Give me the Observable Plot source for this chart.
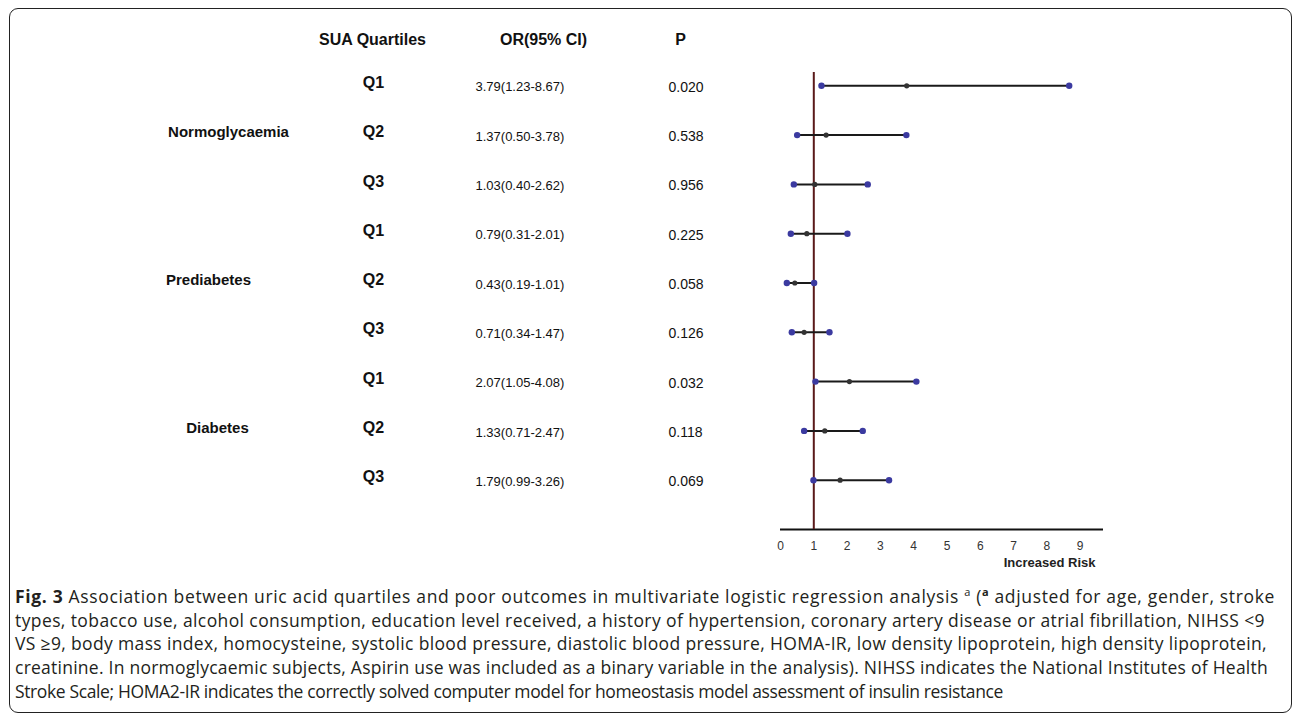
<!DOCTYPE html>
<html><head><meta charset="utf-8">
<script src="https://cdn.jsdelivr.net/npm/d3@7"></script>
<script src="https://cdn.jsdelivr.net/npm/@observablehq/plot@0.6"></script>
<style>
html,body{margin:0;padding:0;background:#fff;}
#wrap{position:relative;width:1292px;height:719px;overflow:hidden;background:#fff;}
#box{position:absolute;left:9px;top:8px;width:1283px;height:705px;border:1.6px solid #222;border-radius:9px;box-sizing:border-box;}
#chart{position:absolute;left:0;top:0;}
#caption{position:absolute;left:15px;top:585px;font-family:"Open Sans",sans-serif;font-size:17.5px;line-height:23.7px;color:#231f20;}
.ln{display:block;white-space:nowrap;height:23.7px;}
.ln span.t{display:inline-block;white-space:nowrap;}
sup{font-size:11px;line-height:0;vertical-align:7px;}
</style>
</head><body>
<div id="wrap">
  <div id="box"></div>
  <div id="chart"></div>
  <div id="caption">
    <div class="ln"><span class="t"><b>Fig. 3</b> Association between uric acid quartiles and poor outcomes in multivariate logistic regression analysis <sup>a</sup> (<sup><b>a</b></sup> adjusted for age, gender, stroke</span></div>
    <div class="ln"><span class="t">types, tobacco use, alcohol consumption, education level received, a history of hypertension, coronary artery disease or atrial fibrillation, NIHSS &lt;9</span></div>
    <div class="ln"><span class="t">VS ≥9, body mass index, homocysteine, systolic blood pressure, diastolic blood pressure, HOMA-IR, low density lipoprotein, high density lipoprotein,</span></div>
    <div class="ln"><span class="t">creatinine. In normoglycaemic subjects, Aspirin use was included as a binary variable in the analysis). NIHSS indicates the National Institutes of Health</span></div>
    <div class="ln"><span class="t">Stroke Scale; HOMA2-IR indicates the correctly solved computer model for homeostasis model assessment of insulin resistance</span></div>
  </div>
</div>
<script>
// ---- data ----
const rowGroups = ["Normoglycaemia","Normoglycaemia","Normoglycaemia","Prediabetes","Prediabetes","Prediabetes","Diabetes","Diabetes","Diabetes"];
const quartiles = ["Q1","Q2","Q3","Q1","Q2","Q3","Q1","Q2","Q3"];
const orValues = [3.79, 1.37, 1.03, 0.79, 0.43, 0.71, 2.07, 1.33, 1.79];
const ciLower  = [1.23, 0.50, 0.40, 0.31, 0.19, 0.34, 1.05, 0.71, 0.99];
const ciUpper  = [8.67, 3.78, 2.62, 2.01, 1.01, 1.47, 4.08, 2.47, 3.26];
const orLabels = ["3.79(1.23-8.67)","1.37(0.50-3.78)","1.03(0.40-2.62)","0.79(0.31-2.01)","0.43(0.19-1.01)","0.71(0.34-1.47)","2.07(1.05-4.08)","1.33(0.71-2.47)","1.79(0.99-3.26)"];
const pValues  = ["0.020","0.538","0.956","0.225","0.058","0.126","0.032","0.118","0.069"];
const groupNames = ["Normoglycaemia","Prediabetes","Diabetes"];
const headers = ["SUA Quartiles","OR(95% CI)","P"];
const xTicks = [0,1,2,3,4,5,6,7,8,9];
const refValue = 1;
const axisLabel = "Increased Risk";

// ---- tables built from arrays ----
const rows = orValues.map((v, i) => ({i, group: rowGroups[i], q: quartiles[i], or: v, lo: ciLower[i], hi: ciUpper[i], label: orLabels[i], p: pValues[i]}));
const groupDx = [-552, -572, -563];
const groupRows = groupNames.map(g => {
  const idx = rows.filter(r => r.group === g).map(r => r.i);
  return {group: g, i: idx[Math.floor(idx.length / 2)]};
});
const yMax = rows.length;

const headerDx = [-408, -237, -100];
const font = "'Liberation Sans', Arial, sans-serif";

const chart = Plot.plot({
  width: 1292, height: 580,
  marginLeft: 780, marginRight: 189, marginTop: 72, marginBottom: 51,
  style: {fontFamily: font, background: "transparent", color: "#111", overflow: "visible"},
  x: {domain: [0, 9.7]},
  y: {domain: [-0.27, yMax], reverse: true, axis: null},
  marks: [
    Plot.axisX({ticks: xTicks, tickSize: 0, tickPadding: 12, fontSize: 12, fill: "#333", label: null}),
    Plot.ruleY([yMax], {stroke: "#111", strokeWidth: 2.2}),
    Plot.ruleX([refValue], {stroke: "#5a1a1a", strokeWidth: 2}),
    Plot.ruleY(rows, {y: "i", x1: "lo", x2: "hi", stroke: "#1a1a1a", strokeWidth: 2}),
    Plot.dot(rows, {x: "lo", y: "i", r: 3.2, fill: "#3b3aa0", stroke: null}),
    Plot.dot(rows, {x: "hi", y: "i", r: 3.2, fill: "#3b3aa0", stroke: null}),
    Plot.dot(rows, {x: "or", y: "i", r: 2.6, fill: "#333", stroke: null}),
    Plot.text([axisLabel], {frameAnchor: "bottom-right", dx: -8, dy: 37, textAnchor: "end", fontWeight: "bold", fontSize: 13, fill: "#222"}),
    ...headers.map((h, k) => Plot.text([h], {frameAnchor: "top-left", dx: headerDx[k], dy: -39, textAnchor: "middle", fontWeight: "bold", fontSize: 16, fill: "#111"})),
    Plot.text(rows, {y: "i", text: "q", frameAnchor: "left", dx: -407, dy: -3, textAnchor: "middle", fontWeight: "bold", fontSize: 16, fill: "#111"}),
    Plot.text(rows, {y: "i", text: "label", frameAnchor: "left", dx: -305, dy: 1.5, textAnchor: "start", fontSize: 13, fill: "#111"}),
    Plot.text(rows, {y: "i", text: "p", frameAnchor: "left", dx: -112, dy: 1.5, textAnchor: "start", fontSize: 14, fill: "#111"}),
    ...groupRows.map((g, k) => Plot.text([g], {y: "i", text: "group", frameAnchor: "left", dx: groupDx[k], dy: -3, textAnchor: "middle", fontWeight: "bold", fontSize: 15, fill: "#111"}))
  ]
});
document.getElementById("chart").appendChild(chart);

// fit caption lines to the widths of the original
const targets = [1260, 1250, 1252, 1253, 988];
function fit() {
  const spans = Array.from(document.querySelectorAll("#caption .t"));
  spans.forEach((s, k) => {
    s.style.letterSpacing = "0px";
    const w = s.getBoundingClientRect().width;
    const n = s.textContent.length;
    s.style.letterSpacing = ((targets[k] - w) / n) + "px";
  });
}
fit();
if (document.fonts && document.fonts.ready) document.fonts.ready.then(fit);
</script>
</body></html>
